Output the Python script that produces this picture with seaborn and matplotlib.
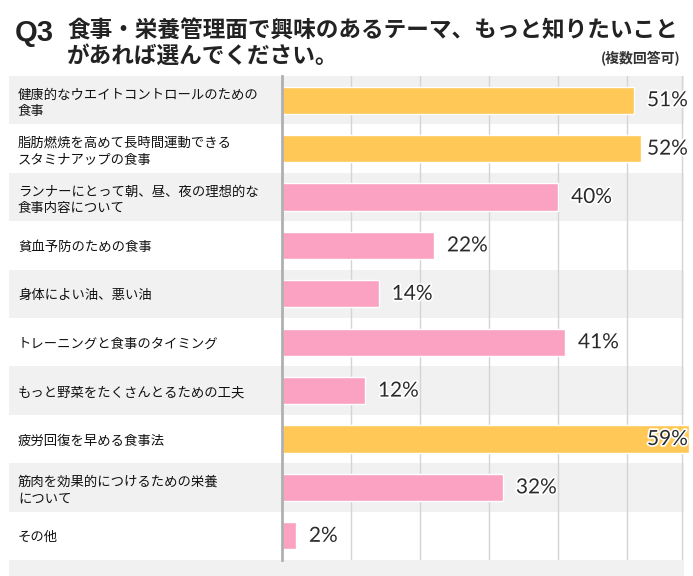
import matplotlib
matplotlib.use("Agg")
import matplotlib.pyplot as plt
import matplotlib.patheffects as pe
from matplotlib.transforms import blended_transform_factory
from matplotlib.patches import Rectangle
import seaborn as sns
import pandas as pd

categories = [
    "健康的なウエイトコントロールのための\n食事",
    "脂肪燃焼を高めて長時間運動できる\nスタミナアップの食事",
    "ランナーにとって朝、昼、夜の理想的な\n食事内容について",
    "貧血予防のための食事",
    "身体によい油、悪い油",
    "トレーニングと食事のタイミング",
    "もっと野菜をたくさんとるための工夫",
    "疲労回復を早める食事法",
    "筋肉を効果的につけるための栄養\nについて",
    "その他",
]
values = [51, 52, 40, 22, 14, 41, 12, 59, 32, 2]
top3 = [True, True, False, False, False, False, False, True, False, False]

title_q = "Q3"
title_line1 = "食事・栄養管理面で興味のあるテーマ、もっと知りたいこと"
title_line2 = "があれば選んでください。"
note = "(複数回答可)"

ORANGE = "#FFC857"
PINK = "#FBA2C3"
BAND = "#F1F1F1"

sns.set_theme(style="white")
plt.rcParams["font.family"] = ["Noto Sans CJK JP", "DejaVu Sans"]

W, H = 693, 576
fig = plt.figure(figsize=(W / 100, H / 100), dpi=100)
ax_left, ax_right = 282, 690
ax_top, ax_bot = 76, 560
ax = fig.add_axes([ax_left / W, 1 - ax_bot / H, (ax_right - ax_left) / W, (ax_bot - ax_top) / H])
xmax = (ax_right - ax_left) / 6.9

df = pd.DataFrame({"cat": categories, "val": values,
                   "grp": ["top" if t else "other" for t in top3]})
sns.barplot(data=df, x="val", y="cat", hue="grp", palette={"top": ORANGE, "other": PINK},
            orient="h", width=0.56, dodge=False, legend=False, ax=ax, zorder=3,
            saturation=1)

ax.set_xlim(0, xmax)
ax.set_ylim(len(categories) - 0.5, -0.5)
ax.patch.set_alpha(0)

# row bands spanning from the label area to the grid edge
bt = blended_transform_factory(fig.transFigure, ax.transData)
for i in range(len(categories)):
    if i % 2 == 0:
        ax.add_patch(Rectangle((9 / W, i - 0.5), (684 - 9) / W, 1.0, transform=bt,
                               facecolor=BAND, edgecolor="none", zorder=0, clip_on=False))
ax.add_patch(Rectangle((9 / W, 0), (684 - 9) / W, (H - 560) / H,
                       transform=fig.transFigure, facecolor=BAND,
                       edgecolor="none", zorder=0, clip_on=False))

for gx in [10, 20, 30, 40, 50, 58]:
    ax.axvline(gx, color="#D4D4D4", lw=1, zorder=1)

for s in ["top", "right", "bottom"]:
    ax.spines[s].set_visible(False)
ax.spines["left"].set_color("#B0B0B0")
ax.spines["left"].set_linewidth(2)
ax.spines["left"].set_zorder(4)

ax.set_xticks([])
ax.set_xlabel("")
ax.set_ylabel("")
ax.tick_params(axis="y", length=0, pad=(ax_left - 18) * 0.72)
for lbl in ax.get_yticklabels():
    lbl.set_ha("left")
    lbl.set_fontsize(9.6)
    lbl.set_color("#111111")
    lbl.set_linespacing(1.25)

for i, v in enumerate(values):
    tx = min(v + 1.9, 52.9)
    ax.text(tx, i, f"{v}%", ha="left", va="center", fontsize=15, color="#2A2A2A",
            family=["Lato", "DejaVu Sans"], fontweight="normal", zorder=5,
            path_effects=[pe.withStroke(linewidth=2.5, foreground="white")])

fig.text(15 / W, 1 - 33 / H, title_q, fontsize=21, fontweight="bold",
         family=["Liberation Sans", "DejaVu Sans"], color="#222222", va="center", ha="left")
fig.text(67 / W, 1 - 31 / H, title_line1, fontsize=16.3, fontweight="bold",
         color="#222222", va="center", ha="left")
fig.text(67 / W, 1 - 56 / H, title_line2, fontsize=16.3, fontweight="bold",
         color="#222222", va="center", ha="left")
fig.text(680 / W, 1 - 59 / H, note, fontsize=10, fontweight="bold",
         color="#333333", va="center", ha="right")

fig.savefig("out.png", dpi=100)
